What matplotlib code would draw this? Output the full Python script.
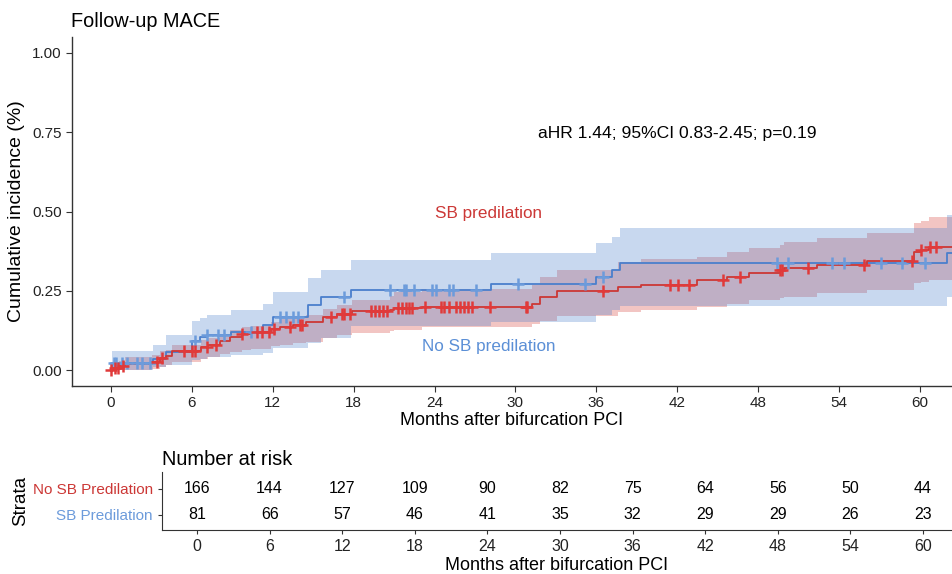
import numpy as np
import matplotlib
matplotlib.use("Agg")
import matplotlib.pyplot as plt

plt.rcParams['font.family'] = ['Liberation Sans', 'DejaVu Sans']

# ---------------- data ----------------
# SB Predilation (blue)
t_blue = [0, 0.1, 3.1, 4.1, 6.0, 6.6, 7.1, 8.9, 11.3, 12.0, 14.6, 15.6, 17.8, 28.2, 36.0, 37.2, 37.8, 62.0]
est_blue = [0, 0.022, 0.035, 0.058, 0.093, 0.103, 0.110, 0.121, 0.142, 0.166, 0.205, 0.230, 0.252, 0.271, 0.295, 0.316, 0.339, 0.368]
upp_blue = [0, 0.060, 0.079, 0.110, 0.156, 0.165, 0.174, 0.190, 0.210, 0.247, 0.290, 0.316, 0.347, 0.370, 0.400, 0.421, 0.447, 0.490]
low_blue = [0, 0.0, 0.010, 0.016, 0.032, 0.036, 0.040, 0.047, 0.055, 0.070, 0.085, 0.100, 0.140, 0.152, 0.175, 0.190, 0.202, 0.230]
cens_blue = [0.2, 0.4, 0.8, 1.2, 1.9, 2.3, 2.9, 6.2, 7.1, 7.9, 8.4, 10.4, 12.5, 13.0, 13.5, 13.9, 17.3,
             20.7, 21.7, 21.9, 22.5, 23.8, 24.1, 25.1, 25.4, 27.1, 30.2, 35.2, 36.5, 49.4, 50.2, 53.5,
             54.4, 57.1, 58.7, 60.4]

# No SB Predilation (red)
t_red = [0, 0.3, 0.6, 1.0, 3.0, 3.6, 4.1, 4.5, 6.7, 7.2, 8.1, 8.8, 9.7, 10.4, 11.9, 12.5, 13.5, 14.5,
         15.7, 16.8, 17.9, 20.7, 21.0, 23.1, 31.2, 31.8, 33.1, 37.6, 39.3, 43.5, 45.7, 47.3, 49.6, 49.9,
         52.4, 56.1, 59.6, 60.1, 60.7]
est_red = [0, 0.006, 0.012, 0.020, 0.027, 0.038, 0.046, 0.060, 0.072, 0.080, 0.093, 0.104, 0.113, 0.119,
           0.130, 0.137, 0.142, 0.152, 0.167, 0.176, 0.186, 0.190, 0.195, 0.200, 0.210, 0.231, 0.250, 0.261,
           0.268, 0.284, 0.295, 0.307, 0.316, 0.321, 0.331, 0.344, 0.373, 0.379, 0.389]
upp_red = [0, 0.018, 0.028, 0.040, 0.047, 0.060, 0.065, 0.080, 0.095, 0.100, 0.115, 0.125, 0.135, 0.140,
           0.152, 0.160, 0.165, 0.175, 0.192, 0.205, 0.220, 0.235, 0.245, 0.255, 0.268, 0.295, 0.316, 0.342,
           0.350, 0.358, 0.373, 0.386, 0.395, 0.405, 0.418, 0.431, 0.463, 0.470, 0.482]
low_red = [0, 0, 0, 0.002, 0.005, 0.010, 0.015, 0.025, 0.035, 0.040, 0.050, 0.058, 0.063, 0.068, 0.075,
           0.080, 0.085, 0.090, 0.100, 0.110, 0.118, 0.122, 0.126, 0.137, 0.145, 0.155, 0.170, 0.184, 0.190,
           0.200, 0.210, 0.221, 0.226, 0.231, 0.242, 0.253, 0.274, 0.278, 0.284]
cens_red = [0.0, 0.3, 0.5, 0.9, 3.4, 3.75, 5.4, 6.0, 6.2, 7.1, 7.8, 9.7, 10.8, 11.2, 11.7, 12.1, 13.3, 14.0,
            14.2, 16.3, 17.1, 17.3, 17.7, 19.3, 19.6, 19.9, 20.2, 20.5, 21.3, 21.6, 21.9, 22.1, 22.3, 23.3,
            24.5, 24.7, 25.1, 25.6, 25.9, 26.2, 26.5, 26.8, 28.1, 30.8, 30.9, 36.5, 41.5, 42.1, 42.9, 45.4,
            46.7, 49.6, 49.8, 51.7, 55.9, 59.4, 60.1, 60.8, 61.2]

# risk table
risk_times = [0, 6, 12, 18, 24, 30, 36, 42, 48, 54, 60]
risk_nosb = [166, 144, 127, 109, 90, 82, 75, 64, 56, 50, 44]
risk_sb = [81, 66, 57, 46, 41, 35, 32, 29, 29, 26, 23]
strata_labels = ["No SB Predilation", "SB Predilation"]

x_ticks = [0, 6, 12, 18, 24, 30, 36, 42, 48, 54, 60]
y_ticks = [0.00, 0.25, 0.50, 0.75, 1.00]

RED = '#CC3836'
BLUE = '#4A7FCC'
XMAX = 62.4
XMIN = -2.9

fig = plt.figure(figsize=(9.52, 5.74), dpi=100)

# ---------------- main plot ----------------
ax = fig.add_axes([72/952, 1-386/574, 1-72/952, (386-37)/574])


def ext(t, v):
    return list(t) + [XMAX], list(v) + [v[-1]]


def stepval(t, v, x):
    i = np.searchsorted(np.asarray(t), x, side='right') - 1
    return np.asarray(v)[max(i, 0)]


tr, lr = ext(t_red, low_red)
_, ur = ext(t_red, upp_red)
_, er = ext(t_red, est_red)
tb, lb = ext(t_blue, low_blue)
_, ub = ext(t_blue, upp_blue)
_, eb = ext(t_blue, est_blue)

ax.fill_between(tr, lr, ur, step='post', color='#D43F3A', alpha=0.3, linewidth=0)
ax.fill_between(tb, lb, ub, step='post', color=BLUE, alpha=0.3, linewidth=0)
ax.step(tb, eb, where='post', color=BLUE, lw=1.3)
ax.step(tr, er, where='post', color=RED, lw=1.3)

cb = [stepval(t_blue, est_blue, c) for c in cens_blue]
cr = [stepval(t_red, est_red, c) for c in cens_red]
ax.plot(cens_blue, cb, ls='none', marker='+', ms=9, mew=1.8, color='#6C9BDB')
ax.plot(cens_red, cr, ls='none', marker='+', ms=9, mew=1.8, color='#E03A3A')

ax.set_xlim(XMIN, XMAX)
ax.set_ylim(-0.05, 1.05)
ax.set_xticks(x_ticks)
ax.set_yticks(y_ticks)
ax.set_yticklabels([f"{v:.2f}" for v in y_ticks])
for s in ['top', 'right']:
    ax.spines[s].set_visible(False)
for s in ['left', 'bottom']:
    ax.spines[s].set_color('#333333')
    ax.spines[s].set_linewidth(1.0)
ax.tick_params(axis='both', labelsize=11, colors='#333333', labelcolor='#222222', length=4)
ax.set_xlabel("Months after bifurcation PCI", fontsize=13, labelpad=1)
ax.set_ylabel("Cumulative incidence (%)", fontsize=14, labelpad=5)
ax.text(-3.0, 1.07, "Follow-up MACE", fontsize=14.3, ha='left', va='bottom', transform=ax.transData)

ax.text(42, 0.745, "aHR 1.44; 95%CI 0.83-2.45; p=0.19", fontsize=12.6, ha='center', va='center')
ax.text(28, 0.495, "SB predilation", fontsize=12.3, color=RED, ha='center', va='center')
ax.text(28, 0.076, "No SB predilation", fontsize=12.3, color='#5B8FD6', ha='center', va='center')

# ---------------- risk table ----------------
rx = fig.add_axes([162/952, 1-530/574, 1-162/952, (530-472)/574])
rx.set_xlim(XMIN, XMAX)
rx.set_ylim(-0.58, 1.65)
for t, n in zip(risk_times, risk_nosb):
    rx.text(t, 1, str(n), ha='center', va='center', fontsize=11.5)
for t, n in zip(risk_times, risk_sb):
    rx.text(t, 0, str(n), ha='center', va='center', fontsize=11.5)
rx.set_xticks(x_ticks)
rx.set_yticks([1, 0])
rx.set_yticklabels(strata_labels)
for s in ['top', 'right']:
    rx.spines[s].set_visible(False)
for s in ['left', 'bottom']:
    rx.spines[s].set_color('#333333')
rx.tick_params(axis='both', colors='#333333', length=3)
rx.tick_params(axis='x', labelsize=11.5, labelcolor='#222222')
rx.tick_params(axis='y', labelsize=11)
for lab, col in zip(rx.get_yticklabels(), [RED, '#6C9BDB']):
    lab.set_color(col)
rx.set_xlabel("Months after bifurcation PCI", fontsize=13, labelpad=2)
rx.set_ylabel("Strata", fontsize=13.5, labelpad=3)
rx.set_title("Number at risk", fontsize=14.4, loc='left', pad=5)

fig.savefig("out.png", dpi=100)
